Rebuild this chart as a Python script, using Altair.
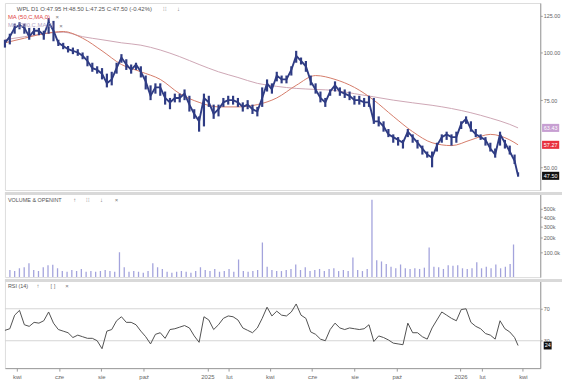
import altair as alt
import pandas as pd

# ---------------- data (one value per week) ----------------
START = "2024-03-15"
LAST_DATE = "2026-03-25"

close = [106, 110, 116, 118, 116, 110, 114, 114, 111, 120,
         114, 106, 104, 102, 101, 100, 98, 95, 91, 90,
         88, 83, 85, 91, 97, 93, 90, 93, 89, 84,
         77, 81, 81, 76, 74, 76, 76, 78, 73, 69,
         66, 76, 74, 69, 71, 74, 75, 75, 74, 72,
         73, 71, 70, 76, 83, 80, 87, 85, 85, 90,
         98, 95, 92, 84, 80, 76, 74, 79, 82, 79,
         78, 77, 75, 75, 74, 74, 66, 66, 64, 61,
         60, 59, 58, 62, 60, 58, 56, 54, 53, 57,
         60, 61, 60, 60, 65, 67, 63, 61, 60, 59,
         56, 54, 61, 58, 55, 52, 47.5]
high = [108, 112, 119, 120, 119, 116, 116, 116, 114, 123,
        121, 108, 106, 104, 103, 102, 100, 98, 94, 92,
        91, 88, 89, 94, 99, 96, 93, 94, 92, 87,
        82, 83, 83, 79, 76, 78, 78, 80, 77, 71,
        68, 78, 77, 73, 73, 76, 77, 77, 76, 74,
        75, 73, 72, 81, 85, 83, 89, 87, 87, 92,
        101, 97, 95, 87, 83, 79, 76, 80, 84, 81,
        80, 79, 77, 77, 76, 77, 76, 68, 66, 63,
        61, 60, 59, 63, 61, 59, 57, 55, 55, 58,
        61, 62, 61, 62, 66, 68, 66, 63, 61, 60,
        58, 56, 62, 59, 57, 54, 48.5]
low = [103, 105, 112, 115, 112, 108, 111, 111, 108, 112,
       107, 104, 102, 100, 99, 98, 96, 92, 89, 88,
       85, 81, 82, 88, 94, 90, 88, 90, 86, 80,
       75, 78, 77, 73, 71, 74, 74, 75, 70, 67,
       62, 64, 72, 67, 68, 72, 73, 73, 72, 70,
       71, 69, 68, 72, 79, 78, 84, 83, 83, 87,
       94, 93, 89, 82, 78, 74, 72, 77, 79, 77,
       76, 75, 73, 73, 72, 72, 65, 64, 62, 60,
       58, 57, 56, 60, 58, 56, 54, 53, 50, 55,
       58, 59, 57, 58, 63, 65, 62, 60, 59, 57,
       55, 53, 57, 56, 54, 51, 47.25]
volume_k = [25, 22, 30, 33, 48, 25, 22, 33, 40, 42,
            30, 22, 20, 25, 22, 28, 20, 22, 20, 22,
            25, 22, 20, 100, 33, 20, 22, 20, 18, 22,
            48, 33, 28, 20, 18, 20, 22, 20, 18, 22,
            33, 25, 22, 28, 20, 22, 28, 20, 64, 22,
            20, 22, 25, 164, 35, 25, 22, 22, 25, 28,
            43, 25, 33, 22, 25, 28, 22, 28, 30, 22,
            25, 22, 73, 25, 22, 28, 620, 60, 55, 45,
            35, 30, 43, 30, 28, 30, 28, 32, 130, 35,
            33, 28, 40, 38, 40, 30, 28, 30, 52, 30,
            35, 30, 43, 30, 35, 45, 150]
rsi14 = [43, 45, 62, 68, 50, 48, 53, 52, 55, 66,
         52, 44, 42, 40, 34, 37, 35, 33, 33, 30,
         20, 42, 44, 55, 60, 53, 53, 50, 42, 35,
         26, 38, 40, 33, 44, 45, 47, 49, 46, 36,
         28, 60, 56, 44, 50, 58, 61, 60, 56, 46,
         43, 40, 46, 58, 72, 61, 67, 62, 61, 66,
         76, 62, 58, 41, 38, 32, 30, 44, 52, 46,
         44, 46, 45, 44, 45, 50, 29, 36, 34, 31,
         27, 26, 25, 52, 40, 40, 35, 32, 46, 56,
         66, 62, 58, 55, 69, 70, 53, 48, 45, 39,
         37, 32, 55, 45, 41, 34, 24]
# moving averages, one value every 4 weeks plus the last bar
ma50 = [106, 109, 112, 113.5, 109, 101, 93, 89, 85, 78, 74, 72, 72, 73,
        76, 82, 87, 85, 81, 75, 68, 62, 58, 57, 59, 61, 59, 57.27]
ma200 = [108, 110, 112, 113, 110, 108, 106, 104.5, 101.5, 97.5, 93, 89, 86, 83,
         81.5, 80.5, 80, 79.5, 78, 76.5, 75, 73.8, 72.7, 71.3, 69.5, 67.3, 64.8, 63.43]

tags_price = [63.43, 57.27, 47.50]
tag_text = ["63.43", "57.27", "47.50"]
tag_fill = ["#c79fd2", "#e8323e", "#111111"]
rsi_last = [24]

x_ticks = [(2024, 4), (2024, 6), (2024, 8), (2024, 10), (2025, 1), (2025, 2), (2025, 4),
           (2025, 6), (2025, 8), (2025, 10), (2026, 1), (2026, 2), (2026, 4)]

# ---------------- tables ----------------
dates = list(pd.date_range(START, periods=106, freq="7D")) + [pd.Timestamp(LAST_DATE)]
df = pd.DataFrame({"date": dates, "close": close, "high": high, "low": low,
                   "vol": [v * 1000 for v in volume_k], "rsi": rsi14})
ma_dates = [dates[i] for i in range(0, 105, 4)] + [dates[-1]]
df_ma = pd.DataFrame({"date": ma_dates, "ma50": ma50, "ma200": ma200})
one = pd.DataFrame({"a": [0]})

# ---------------- style ----------------
FONT = "Liberation Sans"
NAVY = "#2f3c84"
C50 = "#d47b69"
C200 = "#cda6b4"
VOLC = "#a3a3dc"
AX = "#9a9a9a"
LB = "#666666"
SEP = "#d9d9d9"
W = 541

x_scale = alt.Scale(domain=[alt.DateTime(year=2024, month=3, date=15),
                            alt.DateTime(year=2026, month=4, date=26)])
X0 = alt.X("date:T", scale=x_scale, axis=None)


def txt(s, x, y, color="#555555", size=6, font=FONT):
    return alt.Chart(one).mark_text(align="left", baseline="middle", fontSize=size,
                                    font=font, color=color).encode(
        x=alt.value(x), y=alt.value(y), text=alt.value(s))


def sep():
    return alt.Chart(one).mark_rule(color=SEP, strokeWidth=3).encode(
        x=alt.value(0), x2=alt.value(563), y=alt.value(1.5))


# ---------------- price panel ----------------
price_scale = alt.Scale(type="log", domain=[43.6, 134.8], nice=False)
price_axis = alt.Axis(orient="right", values=[50, 75, 100, 125], format=".2f", title=None,
                      grid=False, domainColor=AX, tickColor=AX, labelColor=LB,
                      labelFontSize=5.5, tickSize=2, labelPadding=1, labelFont=FONT)


def PY(f):
    return alt.Y(f, type="quantitative", scale=price_scale, axis=price_axis)


hl = alt.Chart(df).mark_rule(color=NAVY, strokeWidth=2.2).encode(x=X0, y=PY("low"), y2="high")
cl = alt.Chart(df).mark_line(color=NAVY, strokeWidth=1.9).encode(x=X0, y=PY("close"))
m200 = alt.Chart(df_ma).mark_line(color=C200, strokeWidth=1, interpolate="monotone").encode(
    x=X0, y=PY("ma200"))
m50 = alt.Chart(df_ma).mark_line(color=C50, strokeWidth=1, interpolate="monotone").encode(
    x=X0, y=PY("ma50"))

df_tags = pd.DataFrame({"v": tags_price, "t": tag_text, "c": tag_fill})
tag_box = alt.Chart(df_tags).mark_point(shape="M-1,-0.47H1V0.47H-1Z", filled=True, size=300,
                                        opacity=1, strokeWidth=0).encode(
    x=alt.value(551.5), y=PY("v"), color=alt.Color("c:N", scale=None, legend=None))
tag_txt = alt.Chart(df_tags).mark_text(fontSize=5.5, font=FONT, color="white").encode(
    x=alt.value(551.5), y=PY("v"), text="t:N")

price = alt.layer(
    m200, m50, hl, cl, tag_box, tag_txt,
    txt("WPL  D1  O:47.95  H:48.50  L:47.25  C:47.50  (-0.42%)", 12, 6, "#555555"),
    txt("⁝⁝", 160, 6, "#777777"), txt("↓", 174, 6, "#777777"),
    txt("MA (50,C,MA,0)", 3, 14, "#e04646"), txt("×", 51, 14, "#777777"),
    txt("MA (200,C,MA,0)", 3, 22, "#b5a6c4"), txt("×", 55, 23, "#777777"),
).properties(width=W, height=189)

# ---------------- volume panel ----------------
vol_scale = alt.Scale(type="sqrt", domain=[8900, 736000], nice=False, zero=False)
vol_axis = alt.Axis(orient="right", values=[100000, 200000, 300000, 400000, 500000],
                    labelExpr="datum.value == 100000 ? '100.0k' : format(datum.value / 1000, 'd') + 'k'",
                    title=None, grid=False, domainColor=AX, tickColor=AX, labelColor=LB,
                    labelFontSize=5.5, tickSize=2, labelPadding=1, labelFont=FONT)
vbars = alt.Chart(df).mark_bar(size=1.3, color=VOLC, clip=True).encode(
    x=X0, y=alt.Y("vol:Q", scale=vol_scale, axis=vol_axis))
volume = alt.layer(
    vbars, sep(),
    txt("VOLUME & OPENINT", 3, 8, "#555555", 5.5),
    txt("↑", 69, 8, "#777777"), txt("⁝⁝", 82, 8, "#777777"),
    txt("↓", 96, 8, "#777777"), txt("×", 111, 8, "#777777"),
).properties(width=W, height=86)

# ---------------- RSI panel ----------------
rsi_scale = alt.Scale(domain=[-4.3, 107.2], nice=False, zero=False)
rsi_axis = alt.Axis(orient="right", values=[30, 70], title=None, grid=False,
                    domainColor=AX, tickColor=AX, labelColor=LB, labelFontSize=5.5,
                    tickSize=2, labelPadding=1, labelFont=FONT)
month_expr = ("month(datum.value) == 0 ? timeFormat(datum.value, '%Y') : "
              "['sty','lut','mar','kwi','maj','cze','lip','sie','wrz','paź','lis','gru'][month(datum.value)]")
x_axis = alt.Axis(values=[alt.DateTime(year=y, month=m, date=1) for (y, m) in x_ticks],
                  labelExpr=month_expr, title=None, grid=False, domainColor=AX, tickColor=AX,
                  labelColor=LB, labelFontSize=6, tickSize=3, labelPadding=2, labelFont=FONT)

levels = pd.DataFrame({"lvl": [30, 70]})
rsi_grid = alt.Chart(levels).mark_rule(color="#d6d6d6", strokeWidth=1).encode(
    y=alt.Y("lvl:Q", scale=rsi_scale, axis=rsi_axis))
rsi_line = alt.Chart(df).mark_line(color="#505050", strokeWidth=1).encode(
    x=alt.X("date:T", scale=x_scale, axis=x_axis),
    y=alt.Y("rsi:Q", scale=rsi_scale, axis=rsi_axis))
df_rl = pd.DataFrame({"v": rsi_last, "t": [str(v) for v in rsi_last]})
rsi_box = alt.Chart(df_rl).mark_point(shape="M-1,-1H1V1H-1Z", filled=True, size=64,
                                      opacity=1, strokeWidth=0, color="#111111").encode(
    x=alt.value(548.5), y=alt.Y("v:Q", scale=rsi_scale, axis=rsi_axis))
rsi_txt = alt.Chart(df_rl).mark_text(fontSize=5.5, font=FONT, color="white").encode(
    x=alt.value(548.5), y=alt.Y("v:Q", scale=rsi_scale, axis=rsi_axis), text="t:N")

rsi = alt.layer(
    rsi_grid, rsi_line, rsi_box, rsi_txt, sep(),
    txt("RSI (14)", 3, 7, "#555555", 5.5),
    txt("↑", 32, 7, "#777777"), txt("[ ]", 46, 7, "#777777"), txt("×", 61, 7, "#777777"),
).properties(width=W, height=90)

chart = alt.vconcat(price, volume, rsi, spacing=0).properties(
    padding={"left": 0, "top": 0, "right": 0, "bottom": 0}
).configure_view(stroke=None).configure(background="white")

chart.save("out.html", embed_options={"renderer": "svg", "actions": False})
